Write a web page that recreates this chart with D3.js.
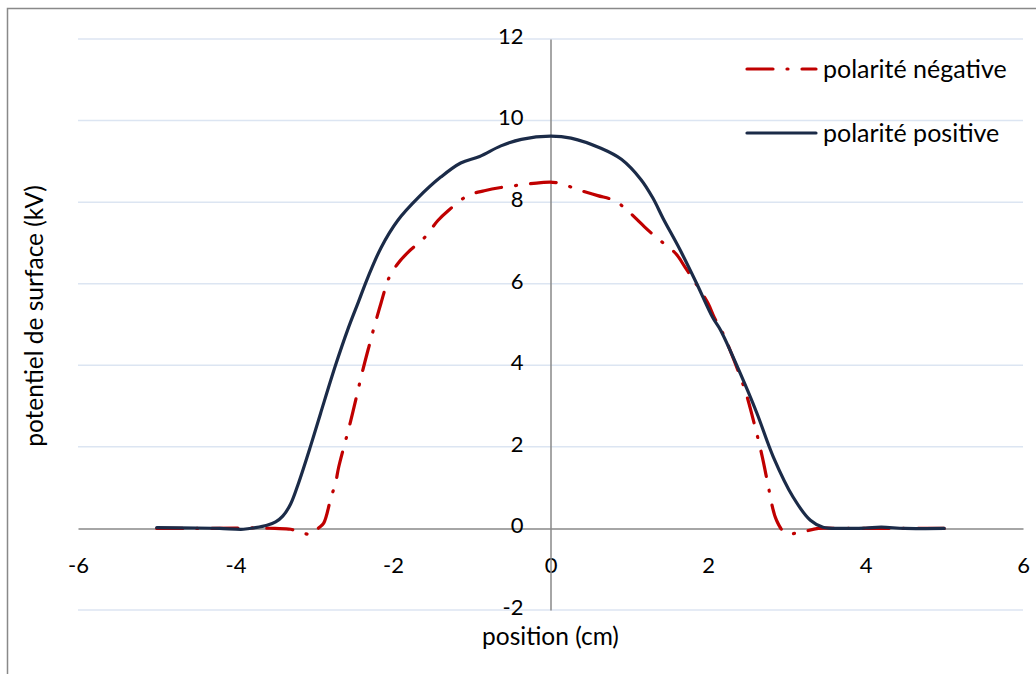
<!DOCTYPE html>
<html>
<head>
<meta charset="utf-8">
<script src="https://cdn.jsdelivr.net/npm/d3@7"></script>
<style>
  html, body { margin: 0; padding: 0; background: #fff; }
  svg { display: block; }
  text { font-family: Lato, "Open Sans", sans-serif; fill: #000; }
</style>
</head>
<body>
<svg id="chart" width="1036" height="674"></svg>
<script>
// Surface potential profiles (kV) versus position (cm)
const negX = [-5.0, -4.5, -4.0, -3.7, -3.5, -3.3, -3.19, -3.02, -2.95, -2.88, -2.79, -2.73, -2.69, -2.56, -2.51, -2.39, -2.3, -2.25, -2.15, -2.05, -1.94, -1.81, -1.6, -1.43, -1.3, -1.05, -0.84, -0.63, -0.34, -0.12, 0.07, 0.39, 0.6, 0.81, 0.98, 1.19, 1.34, 1.59, 1.71, 1.82, 2.0, 2.08, 2.17, 2.28, 2.47, 2.57, 2.69, 2.75, 2.87, 2.99, 3.18, 3.4, 3.7, 4.0, 4.5, 5.0];
const negY = [0.0, 0.0, 0.01, 0.01, 0.0, -0.02, -0.09, -0.14, 0.0, 0.13, 0.74, 1.11, 1.5, 2.46, 2.85, 3.83, 4.5, 4.86, 5.54, 6.15, 6.49, 6.77, 7.13, 7.55, 7.79, 8.16, 8.28, 8.36, 8.43, 8.48, 8.48, 8.28, 8.16, 8.04, 7.79, 7.4, 7.14, 6.74, 6.4, 6.08, 5.52, 5.17, 4.86, 4.37, 3.39, 2.7, 1.75, 1.19, 0.2, -0.12, -0.09, 0.0, 0.0, 0.0, 0.0, 0.0];

const posX = [-5.0, -4.5, -4.2, -3.9, -3.75, -3.6, -3.49, -3.4, -3.3, -3.2, -3.05, -2.92, -2.73, -2.57, -2.44, -2.32, -2.15, -1.94, -1.68, -1.39, -1.14, -0.9, -0.63, -0.37, 0.0, 0.26, 0.64, 0.9, 1.15, 1.3, 1.43, 1.64, 1.85, 2.06, 2.16, 2.41, 2.62, 2.83, 3.08, 3.3, 3.46, 3.7, 4.0, 4.2, 4.5, 5.0];
const posY = [0.02, 0.01, 0.0, -0.02, 0.02, 0.08, 0.16, 0.3, 0.6, 1.11, 2.0, 2.82, 4.0, 4.9, 5.55, 6.15, 6.89, 7.55, 8.11, 8.62, 8.96, 9.12, 9.38, 9.54, 9.62, 9.57, 9.32, 9.05, 8.55, 8.1, 7.6, 6.85, 6.03, 5.17, 4.86, 3.8, 2.83, 1.75, 0.77, 0.2, 0.03, 0.0, 0.01, 0.03, 0.0, 0.0];

const xTicks = [-6, -4, -2, 0, 2, 4, 6];
const yTicks = [-2, 0, 2, 4, 6, 8, 10, 12];
const seriesNames = ["polarité négative", "polarité positive"];

const svg = d3.select("#chart");
const tickFmt = d => String(d);

// outer frame of the chart area
svg.append("rect")
  .attr("x", 7.5).attr("y", 8.5)
  .attr("width", 1200).attr("height", 1000)
  .attr("fill", "none").attr("stroke", "#898989").attr("stroke-width", 1.5);

const x = d3.scaleLinear().domain([-6, 6]).range([78, 1023]);
const y = d3.scaleLinear().domain([-2, 12]).range([610, 39]);

// horizontal gridlines
svg.append("g").selectAll("line")
  .data(yTicks.filter(v => v !== 0))
  .join("line")
  .attr("x1", x(-6)).attr("x2", x(6))
  .attr("y1", d => y(d)).attr("y2", d => y(d))
  .attr("stroke", "#DCE5F2").attr("stroke-width", 1.5);

// x axis through y = 0
const xAxis = svg.append("g")
  .attr("transform", `translate(0,${y(0)})`)
  .call(d3.axisBottom(x).tickValues(xTicks).tickSize(0).tickFormat(tickFmt));
xAxis.select(".domain").attr("stroke", "#898989").attr("stroke-width", 1.5);
xAxis.selectAll("text").attr("font-size", 22).attr("font-family", "Lato, sans-serif").attr("fill", "#000")
  .attr("dy", "0.35em").attr("y", 37);

// y axis through x = 0
const yAxis = svg.append("g")
  .attr("transform", `translate(${x(0)},0)`)
  .call(d3.axisLeft(y).tickValues(yTicks).tickSize(0).tickPadding(27).tickFormat(tickFmt));
yAxis.select(".domain").attr("stroke", "#898989").attr("stroke-width", 1.5);
yAxis.selectAll("text").attr("font-size", 22).attr("font-family", "Lato, sans-serif").attr("fill", "#000")
  .attr("dy", "0.2em");

// curves
const line = d3.line()
  .x(d => x(d[0])).y(d => y(d[1]))
  .curve(d3.curveCatmullRom.alpha(0.5));

const negData = negX.map((v, i) => [v, negY[i]]);
const posData = posX.map((v, i) => [v, posY[i]]);

const dashNeg = "26,14,1,14";

svg.append("path")
  .datum(negData)
  .attr("d", line)
  .attr("fill", "none")
  .attr("stroke", "#C00000")
  .attr("stroke-width", 3.2)
  .attr("stroke-linecap", "round")
  .attr("stroke-dasharray", dashNeg);

svg.append("path")
  .datum(posData)
  .attr("d", line)
  .attr("fill", "none")
  .attr("stroke", "#1B2B48")
  .attr("stroke-width", 3.2)
  .attr("stroke-linecap", "round");

// legend
const legend = svg.append("g");
const legendRows = [
  { name: seriesNames[0], color: "#C00000", dash: dashNeg, y: 69 },
  { name: seriesNames[1], color: "#1B2B48", dash: null, y: 133 }
];
legendRows.forEach(r => {
  legend.append("line")
    .attr("x1", 747).attr("x2", 816)
    .attr("y1", r.y).attr("y2", r.y)
    .attr("stroke", r.color).attr("stroke-width", 3.2)
    .attr("stroke-linecap", "round")
    .attr("stroke-dasharray", r.dash);
  legend.append("text")
    .attr("x", 823).attr("y", r.y)
    .attr("dy", "0.35em")
    .attr("font-size", 25)
    .text(r.name);
});

// axis titles
svg.append("text")
  .attr("x", x(0)).attr("y", 645)
  .attr("text-anchor", "middle")
  .attr("font-size", 24.5)
  .text("position (cm)");

svg.append("text")
  .attr("transform", `translate(43,${316}) rotate(-90)`)
  .attr("text-anchor", "middle")
  .attr("font-size", 24.5)
  .text("potentiel de surface (kV)");
</script>
</body>
</html>
